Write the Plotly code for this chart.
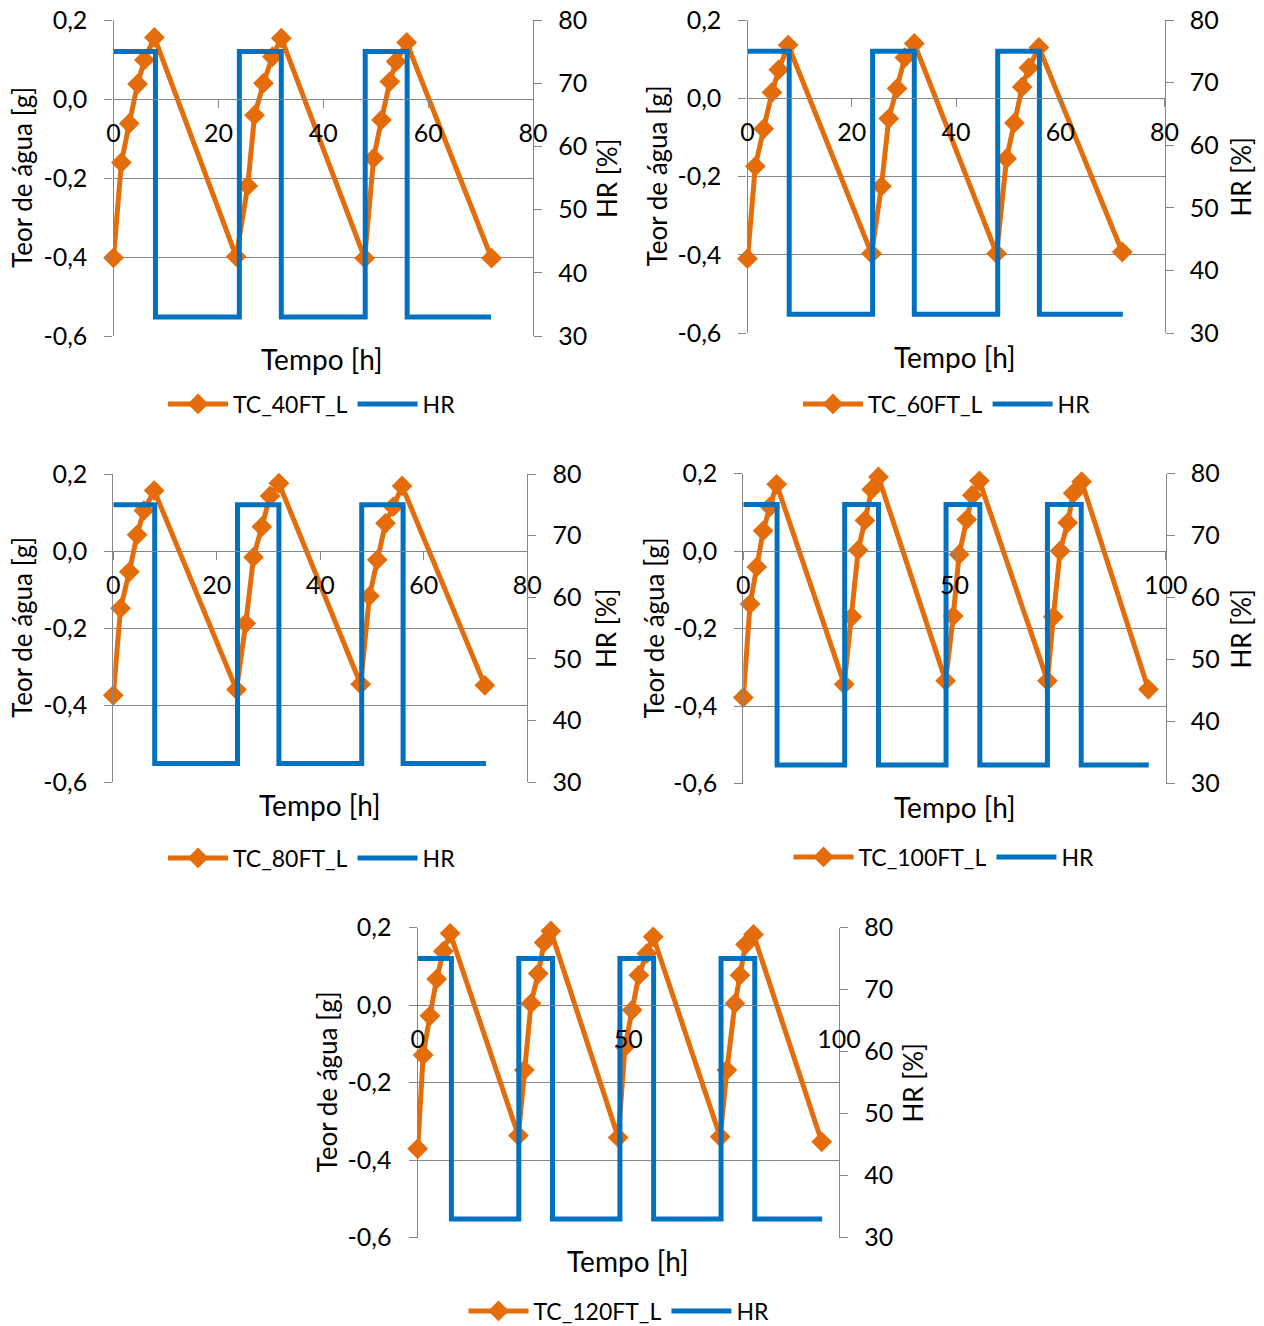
import plotly.graph_objects as go

W, H = 1264, 1326

# ---------------- data ----------------
names = ["TC_40FT_L", "TC_60FT_L", "TC_80FT_L", "TC_100FT_L", "TC_120FT_L"]

t_40 = [0, 1.5, 3.0, 4.6, 5.9, 7.8, 23.4, 25.6, 26.9, 28.6, 30.3, 32.0, 47.9, 49.6, 51.1, 52.7, 53.9, 55.9, 72.1]
w_40 = [-0.402, -0.161, -0.062, 0.038, 0.099, 0.156, -0.399, -0.220, -0.041, 0.040, 0.107, 0.154, -0.403, -0.150, -0.053, 0.044, 0.095, 0.143, -0.403]

t_60 = [0, 1.5, 3.1, 4.7, 6.0, 7.8, 23.8, 25.7, 27.1, 28.7, 30.2, 32.0, 47.8, 49.7, 51.2, 52.7, 54.0, 55.9, 71.9]
w_60 = [-0.410, -0.174, -0.078, 0.015, 0.073, 0.136, -0.397, -0.225, -0.052, 0.025, 0.104, 0.140, -0.397, -0.154, -0.063, 0.029, 0.078, 0.130, -0.393]

t_80 = [0, 1.4, 3.1, 4.6, 5.9, 7.9, 23.8, 25.6, 27.1, 28.7, 30.3, 32.0, 47.8, 49.5, 51.0, 52.6, 54.1, 55.8, 71.8]
w_80 = [-0.375, -0.149, -0.054, 0.042, 0.105, 0.157, -0.360, -0.188, -0.016, 0.063, 0.143, 0.176, -0.346, -0.117, -0.023, 0.072, 0.115, 0.169, -0.349]

t_100 = [0, 1.6, 3.2, 4.7, 6.3, 7.9, 23.9, 25.7, 27.2, 28.8, 30.4, 32.0, 47.9, 49.7, 51.1, 52.9, 54.2, 55.9,
         72.0, 73.4, 75.0, 76.8, 78.1, 80.1, 95.9]
w_100 = [-0.378, -0.137, -0.041, 0.052, 0.114, 0.172, -0.344, -0.170, 0.002, 0.079, 0.159, 0.191, -0.335, -0.168, -0.009, 0.081, 0.144, 0.181,
         -0.335, -0.170, 0.000, 0.073, 0.149, 0.179, -0.357]

t_120 = [0, 1.3, 2.9, 4.5, 6.1, 7.7, 23.9, 25.3, 26.9, 28.6, 30.0, 31.6, 47.6, 49.2, 50.9, 52.5, 54.4, 55.9,
         71.8, 73.4, 75.3, 76.5, 77.8, 79.7, 95.9]
w_120 = [-0.371, -0.129, -0.028, 0.067, 0.139, 0.185, -0.337, -0.168, 0.004, 0.081, 0.161, 0.191, -0.342, -0.108, -0.013, 0.077, 0.133, 0.176,
         -0.340, -0.168, 0.004, 0.077, 0.156, 0.182, -0.353]

hr_t3 = [0, 8, 8, 24, 24, 32, 32, 48, 48, 56, 56, 72]
hr_v3 = [75, 75, 33, 33, 75, 75, 33, 33, 75, 75, 33, 33]
hr_t4 = [0, 8, 8, 24, 24, 32, 32, 48, 48, 56, 56, 72, 72, 80, 80, 96]
hr_v4 = [75, 75, 33, 33, 75, 75, 33, 33, 75, 75, 33, 33, 75, 75, 33, 33]

y_ticks = [-0.6, -0.4, -0.2, 0.0, 0.2]
y_ticktext = ["-0,6", "-0,4", "-0,2", "0,0", "0,2"]
hr_ticks = [30, 40, 50, 60, 70, 80]

series = [(t_40, w_40, hr_t3, hr_v3), (t_60, w_60, hr_t3, hr_v3), (t_80, w_80, hr_t3, hr_v3),
          (t_100, w_100, hr_t4, hr_v4), (t_120, w_120, hr_t4, hr_v4)]
x_ranges = [(0, 80, 20), (0, 80, 20), (0, 80, 20), (0, 100, 50), (0, 100, 50)]

# ---------------- layout geometry (pixels) ----------------
boxes = [  # x0, x1, y_top, y_bottom
    (113.5, 533.0, 20.0, 336.0),
    (747.5, 1164.5, 20.0, 333.0),
    (113.3, 527.3, 474.0, 782.0),
    (743.3, 1165.7, 473.5, 783.5),
    (417.7, 839.0, 927.5, 1237.5),
]
left_title_x = [22, 657, 22, 653, 326]
right_title_x = [607, 1241, 606, 1240, 912]
tempo_pos = [(322, 359), (955, 357), (320, 805), (955, 807), (628, 1261)]
legend_pos = [(312, 404), (947, 404), (312, 858), (944, 857), (619, 1311)]

ORANGE = "#E46C0A"
BLUE = "#0070C0"
GRID = "#868686"
FONT = "Lato"
FS = 25

def px(x):
    return x / W

def py(y):
    return 1 - y / H

fig = go.Figure()
layout = dict(width=W, height=H, margin=dict(l=0, r=0, t=0, b=0, pad=0, autoexpand=False),
              paper_bgcolor="white", plot_bgcolor="white",
              separators=",.", font=dict(family=FONT, size=FS, color="black"),
              annotations=[])

for i in range(5):
    t, w, ht, hv = series[i]
    x0, x1, yt, yb = boxes[i]
    xa = "x" if i == 0 else f"x{i+1}"
    ya_l = f"y{2*i+1}" if i > 0 else "y"
    ya_r = f"y{2*i+2}"
    leg = "legend" if i == 0 else f"legend{i+1}"

    fig.add_trace(go.Scatter(x=t, y=w, mode="lines+markers", name=names[i],
                             line=dict(color=ORANGE, width=5),
                             marker=dict(symbol="diamond", size=16, color=ORANGE),
                             cliponaxis=False,
                             xaxis=xa, yaxis=ya_l, legend=leg))
    fig.add_trace(go.Scatter(x=ht, y=hv, mode="lines", name="HR",
                             line=dict(color=BLUE, width=5),
                             xaxis=xa, yaxis=ya_r, legend=leg))

    zero_y = yt + (yb - yt) * 0.25
    xr = x_ranges[i]
    xkey = "xaxis" if i == 0 else f"xaxis{i+1}"
    ylkey = "yaxis" if i == 0 else f"yaxis{2*i+1}"
    yrkey = f"yaxis{2*i+2}"
    layout[xkey] = dict(domain=[px(x0), px(x1)], anchor="free", position=py(zero_y),
                        range=[xr[0], xr[1]], tick0=0, dtick=xr[2], automargin=False,
                        showgrid=False, zeroline=False, showline=True, linecolor=GRID, linewidth=1.3,
                        ticks="outside", ticklen=8, tickcolor=GRID, tickwidth=1.3,
                        ticklabelstandoff=4, tickfont=dict(family=FONT, size=FS, color="black"))
    layout[ylkey] = dict(domain=[py(yb), py(yt)], anchor=xa, range=[-0.6, 0.2],
                         tickvals=y_ticks, ticktext=y_ticktext, automargin=False,
                         showgrid=True, gridcolor=GRID, gridwidth=1.3, zeroline=False,
                         showline=True, linecolor=GRID, linewidth=1.3,
                         ticks="outside", ticklen=8, tickcolor=GRID, tickwidth=1.3,
                         ticklabelstandoff=12, tickfont=dict(family=FONT, size=FS, color="black"))
    layout[yrkey] = dict(overlaying=ya_l, anchor=xa, side="right", range=[30, 80],
                         tickvals=hr_ticks, showgrid=False, zeroline=False, automargin=False,
                         showline=True, linecolor=GRID, linewidth=1.3,
                         ticks="outside", ticklen=8, tickcolor=GRID, tickwidth=1.3,
                         ticklabelstandoff=11, tickfont=dict(family=FONT, size=FS, color="black"))

    layout[leg] = dict(orientation="h", x=px(legend_pos[i][0]), y=py(legend_pos[i][1]),
                       xanchor="center", yanchor="middle", itemwidth=60,
                       font=dict(family=FONT, size=23, color="black"),
                       bgcolor="rgba(0,0,0,0)")

    ymid = py((yt + yb) / 2)
    layout["annotations"] += [
        dict(text="Teor de água [g]", x=px(left_title_x[i]), y=ymid, xref="paper", yref="paper",
             textangle=-90, showarrow=False, xanchor="center", yanchor="middle",
             font=dict(family=FONT, size=FS + 1, color="black")),
        dict(text="HR [%]", x=px(right_title_x[i]), y=ymid, xref="paper", yref="paper",
             textangle=-90, showarrow=False, xanchor="center", yanchor="middle",
             font=dict(family=FONT, size=FS + 1, color="black")),
        dict(text="Tempo [h]", x=px(tempo_pos[i][0]), y=py(tempo_pos[i][1]), xref="paper", yref="paper",
             showarrow=False, xanchor="center", yanchor="middle",
             font=dict(family=FONT, size=28, color="black")),
    ]

fig.update_layout(**layout)
fig.write_html("out.html")
